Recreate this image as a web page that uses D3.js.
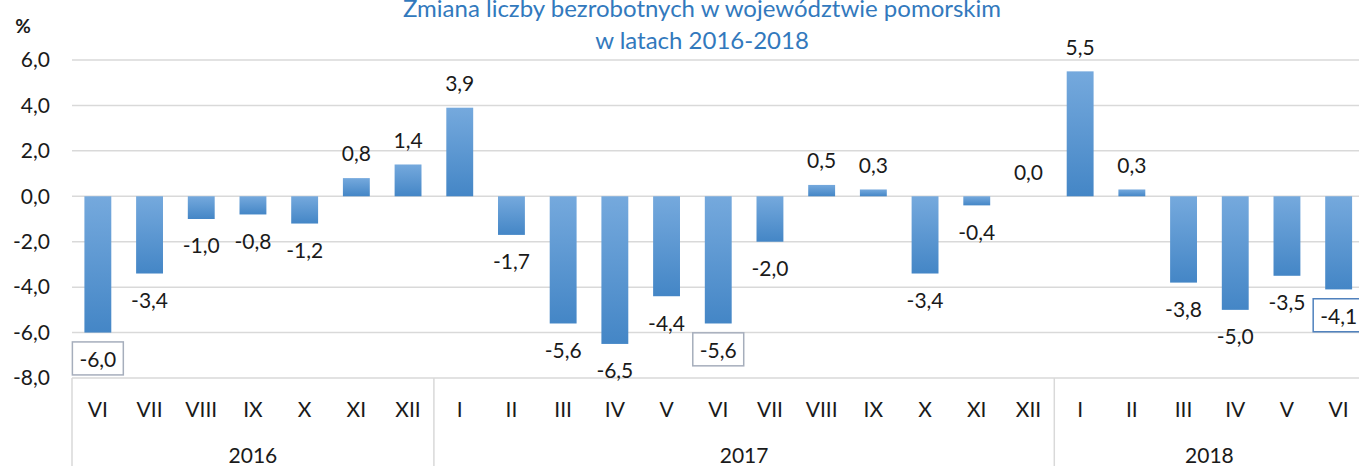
<!DOCTYPE html>
<html>
<head>
<meta charset="utf-8">
<script src="https://cdn.jsdelivr.net/npm/d3@7"></script>
<style>
	body { margin: 0; background: #fff; }
	svg { display: block; font-family: Lato, "Open Sans", sans-serif; }
	.grid line { stroke: #d9d9d9; stroke-width: 1.5; }
	.tick-y { font-size: 21px; fill: #1a1a1a; }
	.val { font-size: 21px; fill: #1a1a1a; }
	.month { font-size: 21px; fill: #1a1a1a; }
	.year { font-size: 21px; fill: #1a1a1a; }
	.title { font-size: 24px; fill: #3279bd; }
</style>
</head>
<body>
<div id="chart"></div>
<script>
// data
const years = ['2016', '2017', '2018'];
const months2016 = ['VI', 'VII', 'VIII', 'IX', 'X', 'XI', 'XII'];
const months2017 = ['I', 'II', 'III', 'IV', 'V', 'VI', 'VII', 'VIII', 'IX', 'X', 'XI', 'XII'];
const months2018 = ['I', 'II', 'III', 'IV', 'V', 'VI'];
const values2016 = [-6.0, -3.4, -1.0, -0.8, -1.2, 0.8, 1.4];
const values2017 = [3.9, -1.7, -5.6, -6.5, -4.4, -5.6, -2.0, 0.5, 0.3, -3.4, -0.4, 0.0];
const values2018 = [5.5, 0.3, -3.8, -5.0, -3.5, -4.1];
const yTicks = [-8, -6, -4, -2, 0, 2, 4, 6];
// boxed labels: [key, border colour]
const boxed = [['2016-VI', '#a6aebc'], ['2017-VI', '#a6aebc'], ['2018-VI', '#4f81bd']];

const rows = [];
[[months2016, values2016], [months2017, values2017], [months2018, values2018]].forEach((pair, i) => {
	pair[0].forEach((m, j) => rows.push({ year: years[i], month: m, key: `${years[i]}-${m}`, value: pair[1][j] }));
});

const width = 1359;
const height = 466;
const marginLeft = 72;
const step = 51.7;

const svg = d3.select('#chart').append('svg')
	.attr('width', width)
	.attr('height', height);

const defs = svg.append('defs');
const grad = defs.append('linearGradient')
	.attr('id', 'barGrad')
	.attr('x1', 0).attr('y1', 0).attr('x2', 0).attr('y2', 1);
grad.append('stop').attr('offset', '0%').attr('stop-color', '#75a9dd');
grad.append('stop').attr('offset', '100%').attr('stop-color', '#4486c6');

const scaleX = d3.scaleBand()
	.domain(rows.map(d => d.key))
	.range([marginLeft, marginLeft + step * rows.length])
	.paddingInner(0.48)
	.paddingOuter(0.24);

const scaleY = d3.scaleLinear()
	.domain([-8, 6])
	.range([378, 60]);

const fmt = v => v.toFixed(1).replace('.', ',');

// gridlines
svg.append('g').attr('class', 'grid')
	.selectAll('line')
	.data(yTicks)
	.join('line')
	.attr('x1', marginLeft)
	.attr('x2', width)
	.attr('y1', d => scaleY(d))
	.attr('y2', d => scaleY(d));

// y axis labels
svg.append('g')
	.selectAll('text')
	.data(yTicks)
	.join('text')
	.attr('class', 'tick-y')
	.attr('x', 50)
	.attr('y', d => scaleY(d))
	.attr('dy', '0.35em')
	.attr('text-anchor', 'end')
	.text(d => fmt(d));

svg.append('text')
	.attr('x', 23)
	.attr('y', 33)
	.attr('text-anchor', 'middle')
	.style('font-size', '19px')
	.style('font-weight', 'bold')
	.style('fill', '#1a1a1a')
	.text('%');

// title
const title = svg.append('text')
	.attr('class', 'title')
	.attr('text-anchor', 'middle');
title.append('tspan').attr('x', 702).attr('y', 17).text('Zmiana liczby bezrobotnych w województwie pomorskim');
title.append('tspan').attr('x', 702).attr('y', 49).text('w latach 2016-2018');

// bars
svg.append('g')
	.selectAll('rect')
	.data(rows)
	.join('rect')
	.attr('x', d => scaleX(d.key))
	.attr('width', scaleX.bandwidth())
	.attr('y', d => scaleY(Math.max(0, d.value)))
	.attr('height', d => Math.abs(scaleY(d.value) - scaleY(0)))
	.attr('fill', 'url(#barGrad)');

// boxes go under the labels
const $boxes = svg.append('g');

// value labels
const $labels = svg.append('g')
	.selectAll('text')
	.data(rows)
	.join('text')
	.attr('class', 'val')
	.attr('x', d => scaleX(d.key) + scaleX.bandwidth() / 2)
	.attr('y', d => d.value >= 0 ? scaleY(d.value) - 24 : scaleY(d.value) + 27)
	.attr('dy', '0.35em')
	.attr('text-anchor', 'middle')
	.text(d => fmt(d.value));

// boxes around chosen labels
const boxMap = new Map(boxed);
$labels.each(function (d) {
	if (!boxMap.has(d.key)) return;
	const b = this.getBBox();
	$boxes.append('rect')
		.attr('x', b.x - 7)
		.attr('y', b.y - 4)
		.attr('width', b.width + 14)
		.attr('height', b.height + 8)
		.attr('fill', '#fff')
		.attr('stroke', boxMap.get(d.key))
		.attr('stroke-width', 1.5);
});

// x axis: months
svg.append('g')
	.selectAll('text')
	.data(rows)
	.join('text')
	.attr('class', 'month')
	.attr('x', d => scaleX(d.key) + scaleX.bandwidth() / 2)
	.attr('y', 410)
	.attr('dy', '0.35em')
	.attr('text-anchor', 'middle')
	.text(d => d.month);

// x axis: years and separators
const groups = years.map(y => {
	const keys = rows.filter(d => d.year === y).map(d => d.key);
	const x0 = scaleX(keys[0]) - scaleX.step() * scaleX.paddingInner() / 2;
	const x1 = scaleX(keys[keys.length - 1]) + scaleX.bandwidth() + scaleX.step() * scaleX.paddingInner() / 2;
	return { year: y, x0, x1 };
});

svg.append('g')
	.selectAll('line')
	.data(groups)
	.join('line')
	.attr('x1', d => d.x0)
	.attr('x2', d => d.x0)
	.attr('y1', scaleY(-8))
	.attr('y2', height)
	.attr('stroke', '#d9d9d9')
	.attr('stroke-width', 1.5);

svg.append('g')
	.selectAll('text')
	.data(groups)
	.join('text')
	.attr('class', 'year')
	.attr('x', d => (d.x0 + d.x1) / 2)
	.attr('y', 456)
	.attr('dy', '0.35em')
	.attr('text-anchor', 'middle')
	.text(d => d.year);
</script>
</body>
</html>
